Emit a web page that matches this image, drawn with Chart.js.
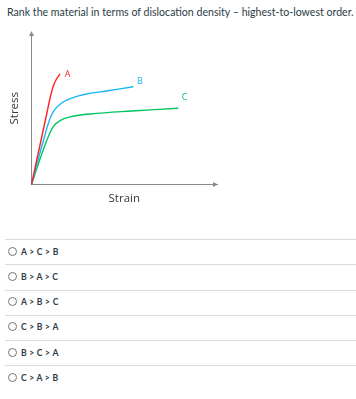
<!DOCTYPE html>
<html>
<head>
<meta charset="utf-8">
<script src="https://cdn.jsdelivr.net/npm/chart.js@4.4.0/dist/chart.umd.min.js"></script>
<style>
  html, body { margin: 0; padding: 0; background: #fff; }
  body { width: 356px; height: 399px; position: relative; overflow: hidden; font-family: Lato, "Open Sans", sans-serif; color: #2d3b45; }
  #q { position: absolute; left: 7px; top: 5px; font-size: 10.6px; white-space: nowrap; line-height: 14px; }
  #wrap { position: absolute; left: 0; top: 0; width: 230px; height: 215px; }
  .sep { position: absolute; left: 5px; width: 351px; height: 1px; background: #d9dcdf; }
  .opt { position: absolute; left: 8px; height: 14px; line-height: 14px; font-size: 8.6px; font-weight: bold; white-space: nowrap; word-spacing: 0.5px; }
  .opt .r { display: inline-block; width: 7px; height: 7px; border: 1px solid #6b7780; border-radius: 50%; vertical-align: middle; margin-right: 4px; position: relative; top: -1px; }
</style>
</head>
<body>
<div id="q">Rank the material in terms of dislocation density – highest-to-lowest order.</div>
<div id="wrap"><canvas id="c" width="230" height="215"></canvas></div>
<div id="opts"></div>
<script>
// ---- data (strain, stress in arbitrary units) ----
const strainA = [0, 8.5, 15, 18.5, 21.8, 25, 28.5];
const stressA = [0, 39.5, 69.5, 86, 98.5, 105.5, 110.5];
const strainB = [0, 8, 13.5, 16.8, 21.8, 30, 38.5, 53.5, 75, 101.8];
const stressB = [0, 30, 49.5, 61, 72.8, 81.5, 85.8, 90.2, 93.5, 97.8];
const strainC = [0, 8, 13.5, 16.8, 21.8, 28.5, 38.5, 58.5, 100, 146.8];
const stressC = [0, 24, 39.5, 47.8, 57.8, 63.8, 67.6, 70.5, 73.5, 76.2];
const seriesNames = ["A", "B", "C"];
const seriesColors = ["#ff2020", "#1cb6f5", "#00c662"];
const labelStrain = [36, 108.5, 153];
const labelStress = [110, 102.8, 87.5];
const axisMax = { strain: 185.5, stress: 152.5 };
const axisTitles = { x: "Strain", y: "Stress" };
const questionOptions = ["A > C > B", "B > A > C", "A > B > C", "C > B > A", "B > C > A", "C > A > B"];

const toPts = (xs, ys) => xs.map((x, i) => ({ x: x, y: ys[i] }));
const series = [toPts(strainA, stressA), toPts(strainB, stressB), toPts(strainC, stressC)];

const extras = {
  id: 'extras',
  afterDraw(chart) {
    const ctx = chart.ctx;
    const xs = chart.scales.x, ys = chart.scales.y;
    const x0 = xs.getPixelForValue(0), y0 = ys.getPixelForValue(0);
    const xEnd = xs.getPixelForValue(axisMax.strain), yEnd = ys.getPixelForValue(axisMax.stress);
    ctx.save();
    ctx.fillStyle = '#8a8a8a';
    ctx.beginPath();
    ctx.moveTo(xEnd + 1, y0); ctx.lineTo(xEnd - 4, y0 - 2.5); ctx.lineTo(xEnd - 4, y0 + 2.5); ctx.closePath(); ctx.fill();
    ctx.beginPath();
    ctx.moveTo(x0, yEnd - 1); ctx.lineTo(x0 - 2.5, yEnd + 4); ctx.lineTo(x0 + 2.5, yEnd + 4); ctx.closePath(); ctx.fill();
    ctx.font = '9px "Open Sans", sans-serif';
    ctx.textAlign = 'center'; ctx.textBaseline = 'middle';
    seriesNames.forEach((n, i) => {
      ctx.fillStyle = seriesColors[i];
      ctx.fillText(n, xs.getPixelForValue(labelStrain[i]), ys.getPixelForValue(labelStress[i]));
    });
    ctx.restore();
  }
};

new Chart(document.getElementById('c'), {
  type: 'scatter',
  data: {
    datasets: series.map((pts, i) => ({
      label: seriesNames[i],
      data: pts,
      showLine: true,
      borderColor: seriesColors[i],
      backgroundColor: seriesColors[i],
      borderWidth: 1.4,
      pointRadius: 0,
      tension: 0.4,
      clip: false
    }))
  },
  options: {
    responsive: false,
    animation: false,
    layout: { padding: { top: 32, right: 13, left: 0, bottom: 0 } },
    plugins: { legend: { display: false }, tooltip: { enabled: false } },
    scales: {
      x: {
        type: 'linear', min: 0, max: axisMax.strain,
        grid: { display: false },
        border: { display: true, color: '#8a8a8a', width: 1 },
        ticks: { display: false },
        title: { display: true, text: axisTitles.x, color: '#3a3a3a', font: { family: '"Open Sans", sans-serif', size: 11.5 }, padding: { top: 0, bottom: 9 } },
        afterFit(s) { s.height = 30.5; }
      },
      y: {
        type: 'linear', min: 0, max: axisMax.stress,
        grid: { display: false },
        border: { display: true, color: '#8a8a8a', width: 1 },
        ticks: { display: false },
        title: { display: true, text: axisTitles.y, color: '#3a3a3a', font: { family: '"Open Sans", sans-serif', size: 11.5 }, padding: { top: 8, bottom: 0 } },
        afterFit(s) { s.width = 31.5; }
      }
    }
  },
  plugins: [extras]
});

const sepY = [239, 264, 290, 315, 340, 365];
const optY = [252, 277, 302, 327, 352.5, 377.5];
const opts = document.getElementById('opts');
sepY.forEach(y => { const d = document.createElement('div'); d.className = 'sep'; d.style.top = y + 'px'; opts.appendChild(d); });
questionOptions.forEach((t, i) => {
  const d = document.createElement('div'); d.className = 'opt'; d.style.top = (optY[i] - 7) + 'px';
  d.innerHTML = '<span class="r"></span>';
  d.appendChild(document.createTextNode(t));
  opts.appendChild(d);
});
</script>
</body>
</html>
